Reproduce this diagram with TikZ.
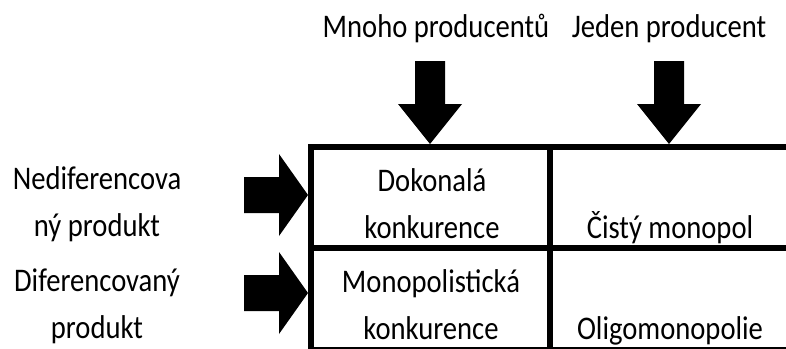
\documentclass[tikz,border=0pt]{standalone}
\usepackage{fontspec}
\setmainfont{Carlito}[FakeStretch=0.867]
\begin{document}
\begin{tikzpicture}[x=1pt,y=-1pt,
    lbl/.style={anchor=base,align=center,inner sep=0pt,font=\fontsize{33}{47}\selectfont},
    gridline/.style={line width=6pt},
    blockarrow/.style={fill=black}]
    \clip (0,0) rectangle (786,348);
    % labels (base = last line)
    \node[lbl] (mnoho) at (436,37) {Mnoho producentů};
    \node[lbl] (jeden) at (669,37) {Jeden producent};
    \node[lbl] (nedif) at (97,236) {Nediferencova\\ný produkt};
    \node[lbl] (dif) at (97,338) {Diferencovaný\\produkt};
    \node[lbl] (dokon) at (432,238) {Dokonalá\\konkurence};
    \node[lbl] (cisty) at (670,238) {Čistý monopol};
    \node[lbl] (monop) at (431,339) {Monopolistická\\konkurence};
    \node[lbl] (oligo) at (670,339) {Oligomonopolie};
    % table
    \draw[gridline] (310.5,350) rectangle (792,147);
    \draw[gridline] (310.5,248) -- (792,248);
    \draw[gridline] (549.5,147) -- (549.5,350);
    % arrows
    \coordinate (top1) at (430,144);
    \coordinate (top2) at (669,144);
    \coordinate (left1) at (308,195);
    \coordinate (left2) at (308,293);
    \foreach \t in {top1,top2}
    {
    \fill[blockarrow] (\t) -- ++(32,-40) -- ++(-17,0) -- ++(0,-43) -- ++(-30,0)
        -- ++(0,43) -- ++(-17,0) -- cycle;
    }
    \foreach \t in {left1,left2}
    {
    \fill[blockarrow] (\t) -- ++(-29,-41) -- ++(0,23) -- ++(-35,0) -- ++(0,36)
        -- ++(35,0) -- ++(0,23) -- cycle;
    }
\end{tikzpicture}
\end{document}
